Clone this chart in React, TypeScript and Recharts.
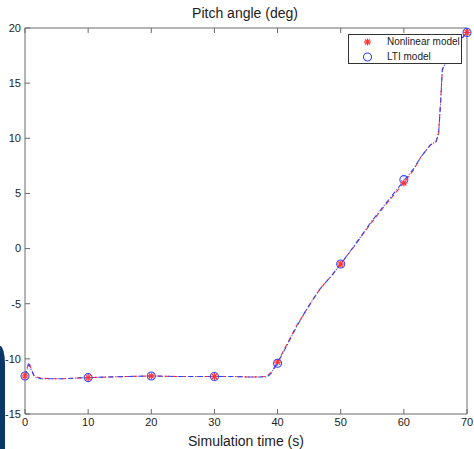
import React from "react";
import {
  ComposedChart,
  Line,
  Scatter,
  XAxis,
  YAxis,
  Legend,
  Label,
} from "recharts";

// simulation time (s) for the two pitch traces
const time = [
  0, 0.3, 0.6, 1.0, 1.5, 2.5, 4, 6, 8, 10, 13, 16, 20, 24, 27, 30, 33, 36, 38.3, 39,
  40, 41, 42, 43, 44.2, 45.5, 46.8, 48.5, 50, 52, 54.8, 57, 60, 61.5, 62.7, 64.2,
  65.1, 65.5, 65.8, 66.1, 66.4, 67.5, 69, 70,
];
const nonlinear = [
  -11.55, -10.9, -10.3, -10.9, -11.6, -11.75, -11.8, -11.8, -11.75, -11.7, -11.65,
  -11.6, -11.55, -11.6, -11.6, -11.6, -11.6, -11.65, -11.6, -11.2, -10.3, -9.2,
  -8.1, -7.0, -5.9, -4.7, -3.6, -2.5, -1.4, 0.1, 2.3, 3.9, 5.95, 7.1, 8.3, 9.4, 9.7,
  10.5, 13.2, 16.3, 16.6, 17.7, 18.9, 19.6,
];
const lti = [
  -11.55, -11.0, -10.5, -11.0, -11.65, -11.8, -11.8, -11.8, -11.75, -11.7, -11.65,
  -11.6, -11.55, -11.6, -11.6, -11.6, -11.6, -11.65, -11.65, -11.3, -10.4, -9.3,
  -8.2, -7.1, -5.9, -4.7, -3.6, -2.5, -1.4, 0.15, 2.4, 4.0, 6.15, 7.2, 8.3, 9.4, 9.7,
  10.4, 13.0, 16.2, 16.6, 17.7, 18.9, 19.7,
];

// marker samples every 10 s
const markerTime = [0, 10, 20, 30, 40, 50, 60, 70];
const nonlinearMarks = [-11.55, -11.7, -11.55, -11.6, -10.3, -1.4, 5.95, 19.6];
const ltiMarks = [-11.55, -11.7, -11.55, -11.6, -10.4, -1.4, 6.25, 19.6];

const xTicks = [0, 10, 20, 30, 40, 50, 60, 70];
const yTicks = [-15, -10, -5, 0, 5, 10, 15, 20];

const rows = time.map((t, i) => ({ t, nl: nonlinear[i], lti: lti[i] }));
const nlPts = markerTime.map((t, i) => ({ t, v: nonlinearMarks[i] }));
const ltiPts = markerTime.map((t, i) => ({ t, v: ltiMarks[i] }));

const RED = "#ff3333";
const BLUE = "#3344ff";
const AXIS = "#6a6a6a";
const FONT = "'Liberation Sans', Arial, sans-serif";

const Star = ({ cx, cy }: any) => {
  const r = 3.5;
  const d = r * 0.72;
  return (
    <g stroke={RED} strokeWidth={1.2}>
      <line x1={cx - r} y1={cy} x2={cx + r} y2={cy} />
      <line x1={cx} y1={cy - r} x2={cx} y2={cy + r} />
      <line x1={cx - d} y1={cy - d} x2={cx + d} y2={cy + d} />
      <line x1={cx - d} y1={cy + d} x2={cx + d} y2={cy - d} />
    </g>
  );
};

const Ring = ({ cx, cy }: any) => (
  <circle cx={cx} cy={cy} r={4} fill="none" stroke={BLUE} strokeWidth={1.1} />
);

const LegendBox = () => (
  <div
    style={{
      width: 112,
      height: 28,
      border: "1px solid #333",
      background: "#fff",
      fontFamily: FONT,
      fontSize: 10,
      color: "#222",
      position: "relative",
    }}
  >
    <svg width={30} height={28} style={{ position: "absolute", left: 0, top: 0 }}>
      <Star cx={18.5} cy={7} />
      <Ring cx={18.5} cy={22} />
    </svg>
    <div style={{ position: "absolute", left: 38, top: 1, lineHeight: "12px" }}>Nonlinear model</div>
    <div style={{ position: "absolute", left: 38, top: 16, lineHeight: "12px" }}>LTI model</div>
  </div>
);

const noLabel = () => "";

export default function App() {
  return (
    <div style={{ position: "absolute", left: 0, top: 0, width: 474, height: 449, background: "#fff" }}>
      {/* slide edge peeking in at the lower left */}
      <div
        style={{
          position: "absolute",
          left: 0,
          top: 346,
          width: 5,
          height: 103,
          background: "#0b3768",
          borderTopRightRadius: "5px 18px",
        }}
      />
      <div
        style={{
          position: "absolute",
          left: 0,
          width: 490,
          top: 5,
          textAlign: "center",
          fontFamily: FONT,
          fontSize: 14,
          color: "#222",
        }}
      >
        Pitch angle (deg)
      </div>
      <ComposedChart
        width={474}
        height={449}
        data={rows}
        margin={{ top: 27, right: 0, bottom: 0, left: 0 }}
        style={{ position: "absolute", left: 0, top: 0 }}
      >
        <XAxis
          dataKey="t"
          type="number"
          domain={[0, 70]}
          ticks={xTicks}
          height={35}
          stroke={AXIS}
          tickSize={-5}
          tickMargin={9}
          tick={{ fill: "#222", fontSize: 11, fontFamily: FONT }}
        >
          <Label
            value="Simulation time (s)"
            position="insideBottom"
            offset={3}
            style={{ fill: "#222", fontSize: 14, fontFamily: FONT }}
          />
        </XAxis>
        <XAxis
          xAxisId="top"
          orientation="top"
          dataKey="t"
          type="number"
          domain={[0, 70]}
          ticks={xTicks}
          height={1}
          stroke={AXIS}
          tickSize={-5}
          tickFormatter={noLabel}
        />
        <YAxis
          type="number"
          domain={[-15, 20]}
          ticks={yTicks}
          width={25}
          stroke={AXIS}
          tickSize={-5}
          tickMargin={9}
          tick={{ fill: "#222", fontSize: 11, fontFamily: FONT }}
        />
        <YAxis
          yAxisId="right"
          orientation="right"
          type="number"
          domain={[-15, 20]}
          ticks={yTicks}
          width={7}
          stroke={AXIS}
          tickSize={-5}
          tickFormatter={noLabel}
        />
        <Line
          dataKey="nl"
          name="Nonlinear model"
          type="linear"
          stroke={RED}
          strokeWidth={1.1}
          strokeDasharray="5 3"
          dot={false}
          isAnimationActive={false}
        />
        <Line
          dataKey="lti"
          name="LTI model"
          type="linear"
          stroke={BLUE}
          strokeWidth={1.1}
          strokeDasharray="5 2 1 2"
          dot={false}
          isAnimationActive={false}
        />
        <Scatter data={ltiPts} dataKey="v" shape={<Ring />} isAnimationActive={false} legendType="none" />
        <Scatter data={nlPts} dataKey="v" shape={<Star />} isAnimationActive={false} legendType="none" />
        <Legend
          layout="vertical"
          align="center"
          verticalAlign="middle"
          content={<LegendBox />}
          wrapperStyle={{ position: "absolute", left: 348, top: 34, width: 114, height: 30 }}
        />
      </ComposedChart>
    </div>
  );
}
